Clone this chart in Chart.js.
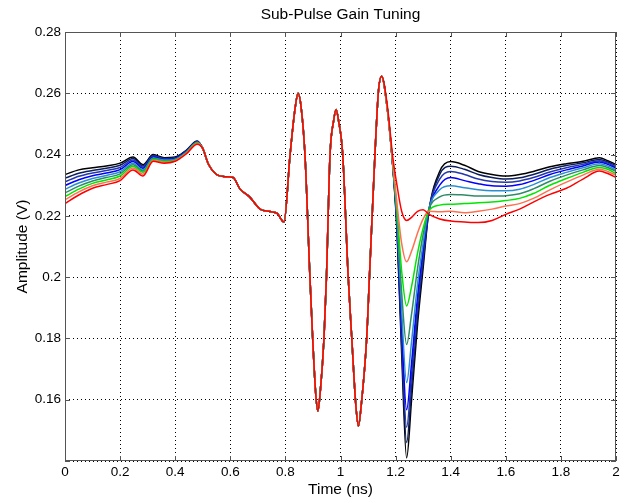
<!DOCTYPE html>
<html>
<head>
<meta charset="utf-8">
<title>Sub-Pulse Gain Tuning</title>
<script src="https://cdn.jsdelivr.net/npm/chart.js@4/dist/chart.umd.min.js"></script>
<style>
  html, body { margin: 0; padding: 0; background: #fff; }
  canvas { display: block; }
</style>
</head>
<body>
<canvas id="myChart" width="625" height="503"></canvas>
<script>
// time axis (ns), shared by all traces
var times = [
    0, 0.05, 0.1, 0.15, 0.2, 0.247, 0.283, 0.32, 0.36, 0.4, 0.44, 0.48,
    0.5, 0.52, 0.55, 0.58, 0.61, 0.635, 0.67, 0.708, 0.744, 0.77, 0.795,
    0.817, 0.835, 0.846, 0.857, 0.871, 0.889, 0.899, 0.91, 0.918, 0.926, 0.94, 0.949,
    0.962, 0.975, 0.984, 0.993, 1.008, 1.028, 1.041, 1.055, 1.065, 1.075, 1.095, 1.105,
    1.125, 1.138, 1.149,
    1.17, 1.19, 1.205, 1.222, 1.24, 1.258, 1.28, 1.3, 1.32, 1.36, 1.4, 1.45, 1.5,
    1.55, 1.6, 1.65, 1.7, 1.76, 1.82, 1.88, 1.94, 1.97, 2
];

// 0 .. 0.48 ns, where the traces are offset from each other
var blackLead = [0.2335, 0.2350, 0.2357, 0.2363, 0.2372, 0.2392, 0.2367, 0.2400, 0.2390, 0.2392, 0.2414, 0.2444];
var navyLead  = [0.2323, 0.2339, 0.2348, 0.2355, 0.2365, 0.2387, 0.2363, 0.2397, 0.2388, 0.2390, 0.2413, 0.2443];
var royalLead = [0.2311, 0.2329, 0.2340, 0.2348, 0.2358, 0.2382, 0.2359, 0.2395, 0.2386, 0.2389, 0.2411, 0.2442];
var blueLead  = [0.2299, 0.2318, 0.2331, 0.2340, 0.2351, 0.2377, 0.2355, 0.2392, 0.2384, 0.2387, 0.2410, 0.2441];
var skyLead   = [0.2287, 0.2307, 0.2322, 0.2332, 0.2344, 0.2372, 0.2350, 0.2389, 0.2382, 0.2385, 0.2408, 0.2440];
var tealLead  = [0.2275, 0.2297, 0.2314, 0.2325, 0.2337, 0.2367, 0.2346, 0.2387, 0.2380, 0.2384, 0.2407, 0.2439];
var greenLead = [0.2263, 0.2287, 0.2306, 0.2317, 0.2330, 0.2362, 0.2342, 0.2384, 0.2378, 0.2382, 0.2405, 0.2438];
var coralLead = [0.2252, 0.2278, 0.2298, 0.2310, 0.2322, 0.2356, 0.2336, 0.2381, 0.2375, 0.2380, 0.2404, 0.2436];
var redLead   = [0.2240, 0.2268, 0.2290, 0.2302, 0.2315, 0.2350, 0.2330, 0.2378, 0.2372, 0.2378, 0.2402, 0.2434];

// 0.5 .. 1.149 ns, the three sub-pulses are the same on every trace
var pulseCommon = [
    0.2420, 0.2370, 0.2335, 0.2328, 0.2325, 0.2288, 0.2262, 0.2222, 0.2214, 0.2208, 0.2180,
    0.2400, 0.2550, 0.2600, 0.2555, 0.2400, 0.2000, 0.1800, 0.1620, 0.1563, 0.1620, 0.1800, 0.2000,
    0.2400, 0.2510, 0.2547, 0.2510, 0.2400, 0.2000, 0.1800, 0.1590, 0.1514, 0.1580, 0.1800, 0.2000,
    0.2400, 0.2610, 0.2656
];

// 1.17 .. 2 ns, the tuned sub-pulse
var blackTail = [0.2550, 0.2360, 0.2150, 0.1750, 0.1410, 0.1600, 0.1850, 0.2030, 0.2210, 0.2345, 0.2377, 0.2365, 0.2345, 0.2335, 0.2330, 0.2335, 0.2345, 0.2360, 0.2370, 0.2378, 0.2390, 0.2380, 0.2368];
var navyTail  = [0.2550, 0.2360, 0.2160, 0.1780, 0.1460, 0.1640, 0.1880, 0.2050, 0.2210, 0.2335, 0.2362, 0.2352, 0.2335, 0.2325, 0.2320, 0.2324, 0.2335, 0.2352, 0.2364, 0.2373, 0.2384, 0.2376, 0.2364];
var royalTail = [0.2550, 0.2360, 0.2170, 0.1810, 0.1510, 0.1680, 0.1910, 0.2070, 0.2215, 0.2320, 0.2345, 0.2335, 0.2320, 0.2312, 0.2310, 0.2314, 0.2325, 0.2343, 0.2357, 0.2368, 0.2380, 0.2372, 0.2360];
var blueTail  = [0.2548, 0.2360, 0.2180, 0.1840, 0.1567, 0.1720, 0.1940, 0.2090, 0.2215, 0.2300, 0.2325, 0.2315, 0.2305, 0.2298, 0.2297, 0.2302, 0.2315, 0.2335, 0.2350, 0.2363, 0.2376, 0.2368, 0.2356];
var skyTail   = [0.2548, 0.2362, 0.2190, 0.1890, 0.1656, 0.1790, 0.1980, 0.2110, 0.2220, 0.2285, 0.2298, 0.2292, 0.2285, 0.2282, 0.2282, 0.2287, 0.2302, 0.2325, 0.2342, 0.2357, 0.2370, 0.2363, 0.2350];
var tealTail  = [0.2548, 0.2364, 0.2205, 0.1950, 0.1780, 0.1880, 0.2030, 0.2140, 0.2220, 0.2262, 0.2270, 0.2268, 0.2265, 0.2265, 0.2266, 0.2272, 0.2288, 0.2313, 0.2333, 0.2350, 0.2364, 0.2358, 0.2345];
var greenTail = [0.2548, 0.2366, 0.2220, 0.2020, 0.1906, 0.1970, 0.2080, 0.2160, 0.2215, 0.2235, 0.2238, 0.2240, 0.2243, 0.2245, 0.2250, 0.2257, 0.2273, 0.2300, 0.2322, 0.2342, 0.2358, 0.2352, 0.2338];
var coralTail = [0.2548, 0.2370, 0.2240, 0.2110, 0.2050, 0.2085, 0.2145, 0.2190, 0.2215, 0.2213, 0.2215, 0.2210, 0.2215, 0.2222, 0.2232, 0.2240, 0.2257, 0.2285, 0.2310, 0.2333, 0.2352, 0.2345, 0.2332];
var redTail   = [0.2560, 0.2390, 0.2300, 0.2215, 0.2185, 0.2195, 0.2215, 0.2220, 0.2206, 0.2190, 0.2183, 0.2180, 0.2178, 0.2185, 0.2205, 0.2222, 0.2245, 0.2270, 0.2290, 0.2320, 0.2346, 0.2338, 0.2325];

var xTicks = [0, 0.2, 0.4, 0.6, 0.8, 1, 1.2, 1.4, 1.6, 1.8, 2];
var yTicks = [0.14, 0.16, 0.18, 0.2, 0.22, 0.24, 0.26, 0.28];

var traces = [
    { lead: blackLead, tail: blackTail, color: '#000000' },
    { lead: navyLead,  tail: navyTail,  color: '#0c1f5c' },
    { lead: royalLead, tail: royalTail, color: '#2438a8' },
    { lead: blueLead,  tail: blueTail,  color: '#0000ff' },
    { lead: skyLead,   tail: skyTail,   color: '#2a8fd0' },
    { lead: tealLead,  tail: tealTail,  color: '#2e8b66' },
    { lead: greenLead, tail: greenTail, color: '#00e600' },
    { lead: coralLead, tail: coralTail, color: '#ff7050' },
    { lead: redLead,   tail: redTail,   color: '#ff0000' }
];

var FONT = 'Arial, "Liberation Sans", sans-serif';

// dataset 0 is painted last, so reverse to keep red on top like matlab
var datasets = traces.slice().reverse().map(function (t) {
    var vals = t.lead.concat(pulseCommon, t.tail);
    return {
        data: times.map(function (x, i) { return { x: x, y: vals[i] }; }),
        borderColor: t.color,
        borderWidth: 1.5,
        pointRadius: 0,
        fill: false,
        cubicInterpolationMode: 'monotone'
    };
});

// box round the axes + ticks pointing inward
const matlabFrame = {
    id: 'matlabFrame',
    afterDatasetsDraw(chart) {
        const { ctx, chartArea: a, scales } = chart;
        ctx.save();
        ctx.strokeStyle = '#555555';
        ctx.lineWidth = 1;
        ctx.strokeRect(Math.round(a.left) + 0.5, Math.round(a.top) + 0.5,
            Math.round(a.width) - 1, Math.round(a.height) - 1);
        ctx.beginPath();
        scales.x.ticks.forEach(function (t) {
            var px = Math.round(scales.x.getPixelForValue(t.value)) + 0.5;
            ctx.moveTo(px, a.bottom); ctx.lineTo(px, a.bottom - 5);
            ctx.moveTo(px, a.top); ctx.lineTo(px, a.top + 5);
        });
        scales.y.ticks.forEach(function (t) {
            var py = Math.round(scales.y.getPixelForValue(t.value)) + 0.5;
            ctx.moveTo(a.left, py); ctx.lineTo(a.left + 5, py);
            ctx.moveTo(a.right, py); ctx.lineTo(a.right - 5, py);
        });
        ctx.stroke();
        ctx.restore();
    }
};

var gridStyle = {
    color: '#000000',
    lineWidth: 1,
    drawTicks: false
};

const config = {
    type: 'line',
    data: { datasets: datasets },
    options: {
        responsive: false,
        animation: false,
        events: [],
        layout: { padding: { left: 0, right: 9, top: 0, bottom: 0 } },
        plugins: {
            legend: { display: false },
            tooltip: { enabled: false },
            title: {
                display: true,
                text: 'Sub-Pulse Gain Tuning',
                fullSize: false,
                color: '#000',
                font: { family: FONT, size: 15.5, weight: 'normal' },
                padding: { top: 5.7, bottom: 7.7 }
            }
        },
        scales: {
            x: {
                type: 'linear',
                min: 0,
                max: 2,
                grid: gridStyle,
                border: { display: false, dash: [1, 3] },
                afterBuildTicks: function (scale) {
                    scale.ticks = xTicks.map(function (v) { return { value: v }; });
                },
                afterFit: function (scale) { scale.height = 42; },
                ticks: {
                    color: '#000',
                    padding: 3,
                    maxRotation: 0,
                    font: { family: FONT, size: 13.5 },
                    callback: function (v) { return String(v); }
                },
                title: {
                    display: true,
                    text: 'Time (ns)',
                    color: '#000',
                    font: { family: FONT, size: 15.5 },
                    padding: { top: 0, bottom: 4 }
                }
            },
            y: {
                type: 'linear',
                min: 0.14,
                max: 0.28,
                grid: gridStyle,
                border: { display: false, dash: [1, 3] },
                afterBuildTicks: function (scale) {
                    scale.ticks = yTicks.map(function (v) { return { value: v }; });
                },
                afterFit: function (scale) { scale.width = 65; },
                ticks: {
                    color: '#000',
                    padding: 4,
                    font: { family: FONT, size: 13.5 },
                    callback: function (v) {
                        if (v === 0.14) return '';
                        return String(+v.toFixed(2));
                    }
                },
                title: {
                    display: true,
                    text: 'Amplitude (V)',
                    color: '#000',
                    font: { family: FONT, size: 15.5 },
                    padding: { top: 13, bottom: 0 }
                }
            }
        }
    },
    plugins: [matlabFrame]
};

const myChart = new Chart(document.getElementById('myChart'), config);
</script>
</body>
</html>
